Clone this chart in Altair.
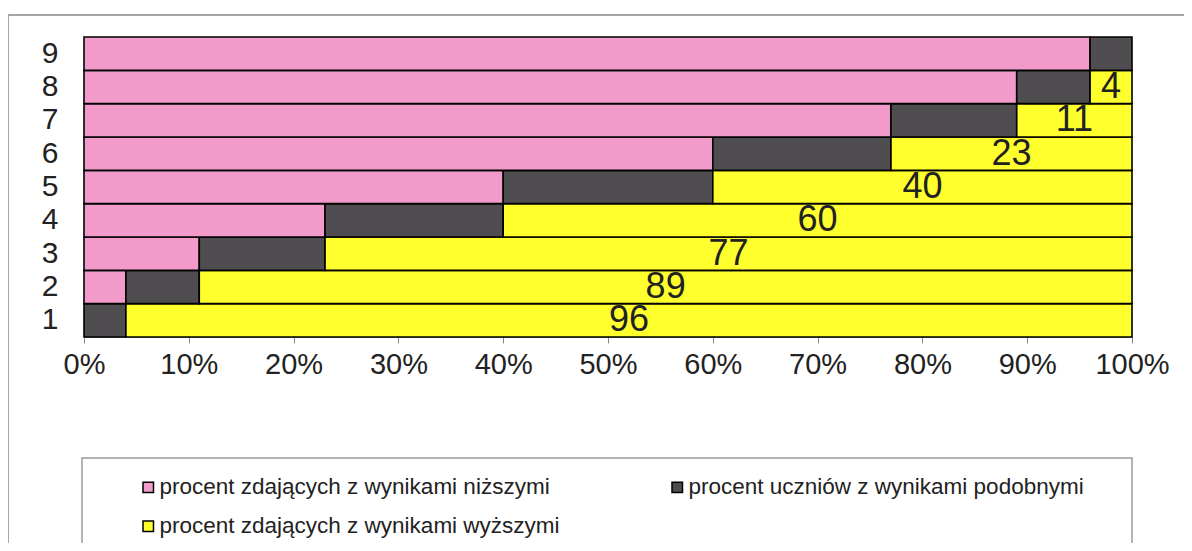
import altair as alt
import pandas as pd

# ---- data ----
categories = ["1", "2", "3", "4", "5", "6", "7", "8", "9"]
lower = [0, 4, 11, 23, 40, 60, 77, 89, 96]      # procent zdających z wynikami niższymi
similar = [4, 7, 12, 17, 20, 17, 12, 7, 4]      # procent uczniów z wynikami podobnymi
higher = [96, 89, 77, 60, 40, 23, 11, 4, 0]     # procent zdających z wynikami wyższymi
series = [
    "procent zdających z wynikami niższymi",
    "procent uczniów z wynikami podobnymi",
    "procent zdających z wynikami wyższymi",
]
colors = ["#F29BCB", "#4F4D50", "#FFFF2E"]
x_ticks = [0, 10, 20, 30, 40, 50, 60, 70, 80, 90, 100]

# legend is filled column by column: niższymi / wyższymi in column 1, podobnymi in column 2
legend_order = [series[0], series[2], series[1]]
legend_colors = [colors[0], colors[2], colors[1]]

FONT = "Liberation Sans"

rows = []
for i, c in enumerate(categories):
    for k, vals in enumerate([lower, similar, higher]):
        rows.append({"kat": c, "seria": series[k], "kolejnosc": k, "wartosc": vals[i]})
df = pd.DataFrame(rows)

lab = pd.DataFrame({"kat": categories, "lower": lower, "similar": similar, "higher": higher})

y_sort = categories[::-1]

y_enc = alt.Y(
    "kat:N",
    sort=y_sort,
    scale=alt.Scale(paddingInner=0, paddingOuter=0),
    axis=alt.Axis(title=None, ticks=False, domain=False, labelFontSize=30, labelPadding=26,
                  labelFont=FONT, labelColor="#222222"),
)

bars = alt.Chart(df).transform_filter("datum.wartosc > 0").mark_bar(
    stroke="black", strokeWidth=1.6
).encode(
    y=y_enc,
    x=alt.X(
        "wartosc:Q",
        stack="zero",
        scale=alt.Scale(domain=[0, 100], nice=False),
        axis=alt.Axis(title=None, values=x_ticks, labelExpr="datum.value + '%'",
                      labelFontSize=29, labelFont=FONT, labelColor="#222222",
                      grid=False, tickSize=6, labelPadding=7, labelFlush=False,
                      domainColor="#888888", tickColor="#888888"),
    ),
    color=alt.Color(
        "seria:N",
        scale=alt.Scale(domain=legend_order, range=legend_colors),
        legend=alt.Legend(
            orient="none", legendX=53, legendY=439, columns=2, columnPadding=106,
            rowPadding=16, symbolType="square", symbolSize=110,
            symbolStrokeColor="black", symbolStrokeWidth=1.5,
            labelFontSize=22.5, labelFont=FONT, labelColor="#222222",
            labelLimit=700, labelOffset=0, title=None,
        ),
    ),
    order=alt.Order("kolejnosc:Q"),
)

labels = alt.Chart(lab).transform_filter("datum.higher > 0").transform_calculate(
    mid="datum.lower + datum.similar + datum.higher / 2"
).mark_text(fontSize=36, font=FONT, color="#222222", baseline="middle").encode(
    y=alt.Y("kat:N", sort=y_sort),
    x=alt.X("mid:Q"),
    text=alt.Text("higher:Q"),
)

frame = alt.Chart(alt.Data(values=[{}])).mark_rect(
    fill="transparent", stroke="#8a8a8a", strokeWidth=1.5
).encode(x=alt.value(-76), x2=alt.value(1200), y=alt.value(-22), y2=alt.value(600))

legend_box = alt.Chart(alt.Data(values=[{}])).mark_rect(
    fill="transparent", stroke="#9a9a9a", strokeWidth=1.5
).encode(x=alt.value(-2), x2=alt.value(1048), y=alt.value(421), y2=alt.value(511))

chart = alt.layer(frame, legend_box, bars, labels).properties(
    width=1048,
    height=300,
    autosize=alt.AutoSizeParams(type="none"),
    padding={"left": 76, "top": 29, "right": 52, "bottom": 206},
    background="white",
).configure_view(stroke=None)

chart.save("out.html", embed_options={"renderer": "svg", "actions": False})
